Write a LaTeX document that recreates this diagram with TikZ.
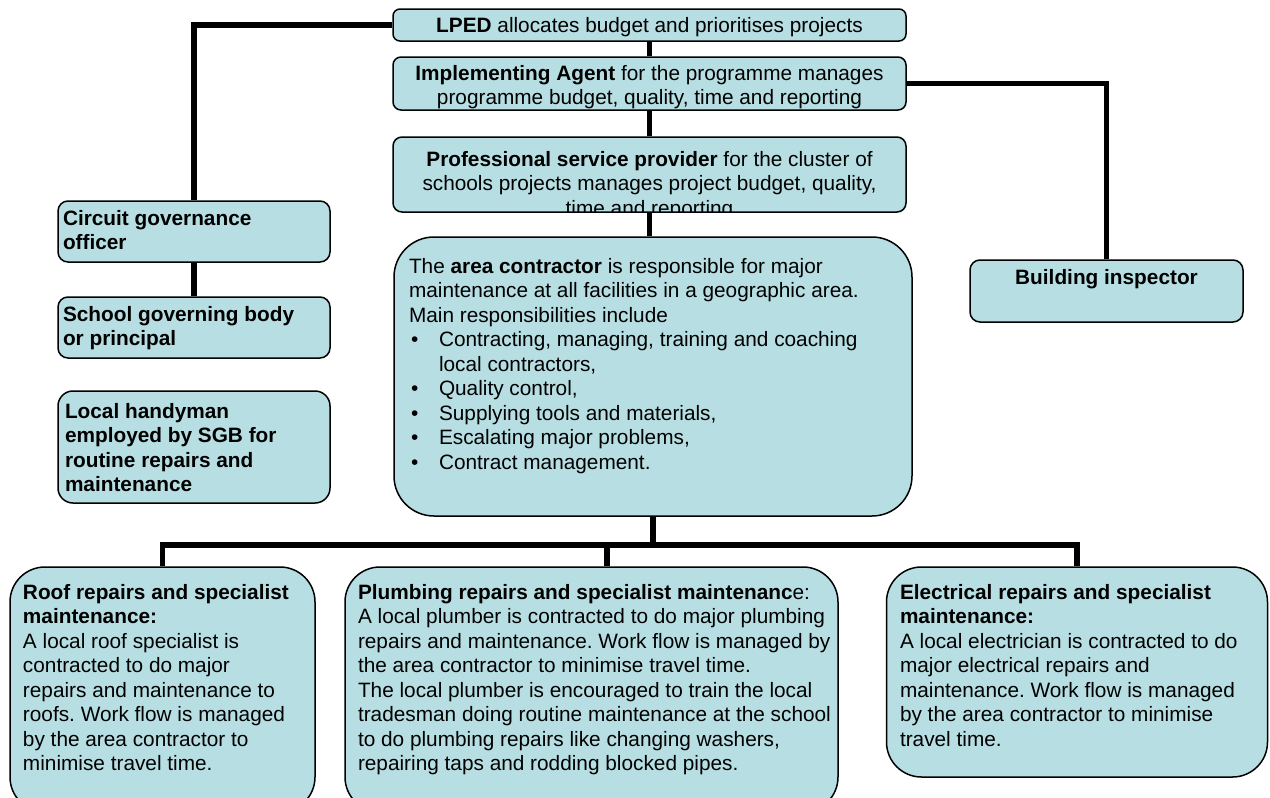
\documentclass[tikz,border=0pt]{standalone}
\usepackage{fontspec}
\setmainfont{Liberation Sans}
\usetikzlibrary{calc}
\pgfdeclarelayer{bg}
\pgfsetlayers{bg,main}
\definecolor{boxfill}{RGB}{183,223,227}
\frenchspacing
\newcommand{\bodyfont}{\fontsize{20.8}{24.5}\selectfont}
% left-aligned and centred text blocks, baseline = first line
\newcommand{\leftblock}[2]{\begin{minipage}[t]{#1}\bodyfont\raggedright #2\end{minipage}}
\newcommand{\midblock}[2]{\begin{minipage}[t]{#1}\bodyfont\centering #2\end{minipage}}
\newcommand{\bulletitem}{\makebox[30pt][l]{\hspace{2pt}\textbullet}}

\begin{document}
\begin{tikzpicture}[x=1pt,y=-1pt,
  box/.style={draw=black, line width=1.5pt, fill=boxfill, rounded corners=#1, inner sep=0pt},
  box/.default=8pt,
  txt/.style={inner sep=0pt, outer sep=0pt},
  conn/.style={draw=black, line width=5.5pt, line join=miter}]

\useasboundingbox (0,0) rectangle (1270,798);

% ---- boxes ----
\node[box=7pt, minimum width=513pt, minimum height=32pt] (lped) at (649.5,25) {};
\node[box=8pt, minimum width=513pt, minimum height=53pt] (ia) at (649.5,83.5) {};
\node[box=9pt, minimum width=513pt, minimum height=75pt] (psp) at (649.5,174.5) {};
\node[box=40pt, minimum width=518pt, minimum height=279pt] (area) at (653,376.5) {};
\node[box=10pt, minimum width=272pt, minimum height=61pt] (cgo) at (194,231.5) {};
\node[box=10pt, minimum width=272pt, minimum height=61pt] (sgb) at (194,327.5) {};
\node[box=15pt, minimum width=272pt, minimum height=112pt] (hand) at (194,447) {};
\node[box=10pt, minimum width=273pt, minimum height=62pt] (bi) at (1106.5,291) {};
\node[box=35pt, minimum width=305pt, minimum height=245pt] (roof) at (162.5,689.5) {};
\node[box=35pt, minimum width=493pt, minimum height=245pt] (plumb) at (591.5,689.5) {};
\node[box=35pt, minimum width=381pt, minimum height=210pt] (elec) at (1077,672) {};

% ---- connectors ----
\path (area.south) ++(0,28) coordinate (bus);
\path (plumb.north) ++(15.5,0) coordinate (plumbtop);
\begin{pgfonlayer}{bg}
  \fill[white] (0,0) rectangle (1270,798);
  \draw[conn] (lped.west) -| (cgo.north);
  \draw[conn] (cgo.south) -- (sgb.north);
  \draw[conn] (lped.south) -- (ia.north);
  \draw[conn] (ia.south) -- (psp.north);
  \draw[conn] (ia.east) -| (bi.north);
  \draw[conn] (psp.south) -- (psp.south |- area.north);
  \draw[conn] (area.south) -- (bus);
  \draw[conn] (roof.north) |- (elec.north |- bus) -- (elec.north);
  \draw[conn] (plumbtop) -- (plumbtop |- bus);
\end{pgfonlayer}

% ---- texts ----
\node[txt, anchor=base] (lpedtxt) at (649.5,32)
  {\midblock{513pt}{\textbf{LPED} allocates budget and prioritises projects}};
\node[txt, anchor=base] (iatxt) at (649.5,80)
  {\midblock{513pt}{\textbf{Implementing Agent} for the programme manages\\
   programme budget, quality, time and reporting}};
\begin{scope}
  \clip ($(psp.north west)+(1,1)$) rectangle ($(psp.south east)+(-1,-1.5)$);
  \node[txt, anchor=base] (psptxt) at (649.5,166)
    {\midblock{513pt}{\textbf{Professional service provider} for the cluster of\\
     schools projects manages project budget, quality,\\
     time and reporting}};
\end{scope}

\node[txt, anchor=base west] (areatxt) at (409,273)
  {\leftblock{500pt}{The \textbf{area contractor} is responsible for major\\
   maintenance at all facilities in a geographic area.\\
   Main responsibilities include\\
   \bulletitem Contracting, managing, training and coaching\\
   \hspace*{30pt}local contractors,\\
   \bulletitem Quality control,\\
   \bulletitem Supplying tools and materials,\\
   \bulletitem Escalating major problems,\\
   \bulletitem Contract management.}};

\node[txt, anchor=base west] (cgotxt) at (63,225)
  {\leftblock{265pt}{\textbf{Circuit governance\\ officer}}};
\node[txt, anchor=base west] (sgbtxt) at (63,321)
  {\leftblock{265pt}{\textbf{School governing body\\ or principal}}};
\node[txt, anchor=base west] (handtxt) at (65,418)
  {\leftblock{265pt}{\textbf{Local handyman\\ employed by SGB for\\ routine repairs and\\ maintenance}}};
\node[txt, anchor=base] (bitxt) at (1106.5,284)
  {\midblock{273pt}{\textbf{Building inspector}}};

\node[txt, anchor=base west] (rooftxt) at (23,599)
  {\leftblock{300pt}{\textbf{Roof repairs and specialist\\ maintenance:}\\
   A local roof specialist is\\
   contracted to do major\\
   repairs and maintenance to\\
   roofs. Work flow is managed\\
   by the area contractor to\\
   minimise travel time.}};
\node[txt, anchor=base west] (plumbtxt) at (358,599)
  {\leftblock{490pt}{\textbf{Plumbing repairs and specialist maintenanc}e:\\
   A local plumber is contracted to do major plumbing\\
   repairs and maintenance. Work flow is managed by\\
   the area contractor to minimise travel time.\\
   The local plumber is encouraged to train the local\\
   tradesman doing routine maintenance at the school\\
   to do plumbing repairs like changing washers,\\
   repairing taps and rodding blocked pipes.}};
\node[txt, anchor=base west] (electxt) at (900,599)
  {\leftblock{365pt}{\textbf{Electrical repairs and specialist\\ maintenance:}\\
   A local electrician is contracted to do\\
   major electrical repairs and\\
   maintenance. Work flow is managed\\
   by the area contractor to minimise\\
   travel time.}};
\end{tikzpicture}
\end{document}
